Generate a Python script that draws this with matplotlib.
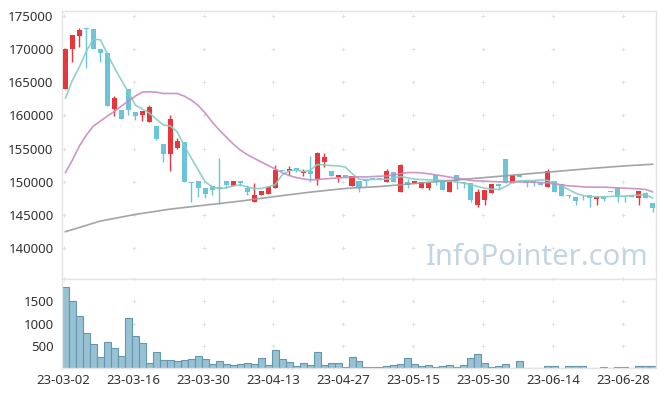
import numpy as np
import matplotlib
matplotlib.use("Agg")
import matplotlib.pyplot as plt

plt.rcParams['font.family'] = ['Noto Sans', 'DejaVu Sans']

# daily candles, 23-03-02 .. 23-07-04 (85 trading days)
opens = [164000, 170000, 171950, 173200, 173000, 170000, 169450, 160900, 160800, 163950,
         160450, 160050, 159050, 158400, 155700, 154150, 155150, 156050, 150000, 150100,
         149150, 149400, 149200, 150100, 149400, 150100, 149100, 147000, 148000, 148200,
         149100, 151800, 151600, 152050, 151400, 151600, 150400, 153050, 151600, 150700,
         151050, 149400, 150100, 150300, 150600, 150500, 150000, 151500, 148500, 150000,
         149800, 149150, 149150, 151050, 150000, 148500, 151050, 150000, 149800, 146500,
         147250, 148250, 149650, 153400, 149800, 151050, 150100, 150100, 149900, 149300,
         150150, 149650, 148000, 147650, 148000, 148000, 147450, 147650, 148600, 149000,
         147800, 147800, 147600, 148300, 146750]
highs = [170200, 172100, 173100, 173200, 173000, 170000, 169450, 162950, 160800, 163950,
         160450, 160650, 161550, 158400, 155700, 160050, 156600, 156050, 150000, 150100,
         149150, 149400, 153600, 150100, 150100, 150100, 149500, 149900, 148600, 149400,
         152550, 151800, 152400, 152050, 152000, 153900, 154550, 154300, 151600, 151050,
         151050, 150900, 150100, 150400, 150600, 150600, 152000, 151500, 152650, 150500,
         150100, 150050, 149900, 151050, 150000, 150000, 151050, 150000, 149800, 148900,
         148750, 149700, 149650, 153400, 151050, 151050, 150100, 150100, 149900, 152000,
         150150, 149650, 148000, 147650, 148000, 148000, 147750, 147650, 148600, 149000,
         147800, 147800, 148600, 148500, 146750]
lows = [164000, 168000, 170350, 167100, 169950, 168000, 161450, 159950, 159400, 160000,
        159300, 159100, 159050, 156300, 153050, 151700, 155000, 150000, 146900, 147700,
        147500, 148000, 146700, 149000, 149400, 149400, 148000, 147000, 148000, 148200,
        149100, 151700, 151000, 151500, 150900, 150000, 149500, 152300, 150900, 150000,
        150800, 149400, 148500, 149400, 150400, 150300, 150000, 150000, 148500, 149000,
        149800, 149000, 148800, 149500, 148750, 148500, 148900, 149000, 147000, 146200,
        146500, 148250, 148800, 149900, 149800, 150700, 149300, 149400, 149500, 149300,
        148500, 147900, 147500, 146500, 147200, 146250, 146500, 147100, 148500, 147000,
        147000, 147700, 146500, 147500, 145500]
closes = [170000, 172100, 172850, 172950, 169950, 169350, 161450, 162550, 159400, 160800,
          159950, 160650, 161300, 156450, 154150, 159450, 156150, 150000, 149850, 149100,
          148200, 148800, 148900, 149500, 150100, 149850, 148450, 148000, 148600, 149200,
          151800, 151700, 151900, 151800, 151650, 151150, 154400, 153800, 150900, 151050,
          150800, 150900, 149150, 150200, 150500, 150450, 151700, 150000, 152550, 149500,
          150100, 150050, 149900, 150100, 148750, 150000, 150100, 149900, 147250, 148500,
          148750, 149700, 149400, 149900, 151050, 150700, 149900, 149800, 149500, 151700,
          148500, 147900, 147900, 147150, 147950, 147600, 147750, 147350, 148500, 147750,
          147700, 147700, 148600, 147500, 146000]
volumes = [1820, 1500, 1160, 786, 538, 245, 583, 448, 275, 1124,
           718, 561, 110, 358, 185, 185, 162, 176, 200, 268,
           200, 88, 162, 88, 65, 88, 110, 88, 223, 65,
           403, 200, 133, 43, 110, 65, 358, 65, 110, 110,
           20, 245, 162, 20, 20, 20, 43, 65, 88, 223,
           88, 43, 65, 20, 43, 65, 20, 65, 223, 313,
           110, 20, 43, 88, 5, 155, 5, 5, 10, 43,
           43, 10, 43, 43, 43, 10, 5, 20, 5, 20,
           20, 5, 43, 43, 43]

# moving averages
ma5 = [162600, 165300, 167300, 169700, 171500, 171350, 169250, 167150, 165300, 163500,
       161550, 160950, 160350, 159450, 158550, 158400, 157500, 155400, 153600, 151800,
       150000, 149250, 148950, 149100, 149400, 149550, 149250, 149000, 149000, 149250,
       149550, 151050, 151650, 151800, 151550, 151700, 152600, 152550, 152450, 152400,
       152250, 151250, 150400, 150350, 150350, 150400, 150400, 150600, 150800, 150600,
       150400, 150350, 150300, 150300, 150200, 150150, 149950, 149800, 149600, 149300,
       149050, 148900, 148850, 149300, 149950, 150150, 150200, 150200, 150300, 150200,
       149800, 149400, 148850, 148300, 147950, 147800, 147750, 147750, 147800, 147850,
       147850, 147950, 148000, 148100, 147550]
ma20 = [151400, 153300, 155400, 157050, 158400, 159150, 159900, 160600, 161400, 162150,
        162900, 163500, 163550, 163500, 163300, 163300, 163300, 162900, 162300, 161500,
        160350, 159000, 157800, 156750, 155700, 154800, 154100, 153550, 153000, 152450,
        151950, 151400, 150950, 150650, 150450, 150300, 150350, 150450, 150500, 150600,
        150650, 150700, 150750, 150750, 150800, 150850, 150900, 151050, 151250, 151400,
        151400, 151350, 151200, 151050, 150900, 150700, 150550, 150400, 150200, 150150,
        150100, 150050, 150000, 150000, 150000, 150000, 149950, 149950, 149900, 149850,
        149700, 149550, 149400, 149350, 149250, 149200, 149200, 149200, 149150, 149100,
        149050, 149000, 148950, 148850, 148500]
ma120_idx = [0, 5, 10, 15, 20, 25, 30, 35, 40, 45, 50, 55, 60, 65, 70, 75, 80, 84]
ma120 = [142500, 144100, 145100, 145900, 146500, 147100, 147800, 148450, 149000,
         149300, 149750, 150200, 150650, 151100, 151550, 152000, 152400, 152650]

tick_pos = [0, 10, 20, 30, 40, 50, 60, 70, 80]
tick_labels = ['23-03-02', '23-03-16', '23-03-30', '23-04-13', '23-04-27',
               '23-05-15', '23-05-30', '23-06-14', '23-06-28']
price_ticks = [140000, 145000, 150000, 155000, 160000, 165000, 170000, 175000]
vol_ticks = [500, 1000, 1500]

UP = '#e8363c'
DOWN = '#6cc4da'
FRAME = '#e4e4e4'
TXT = '#333333'

fig = plt.figure(figsize=(6.65, 3.97), dpi=100)
ax = fig.add_axes([0.0932, 0.2972, 0.8933, 0.6751])
axv = fig.add_axes([0.0932, 0.0730, 0.8933, 0.2242], sharex=ax)

x = np.arange(len(opens))
o = np.array(opens); c = np.array(closes)
colors = [UP if cc > oo else DOWN for oo, cc in zip(o, c)]
bottoms = np.minimum(o, c)
heights = np.maximum(np.abs(c - o), 80)

ax.vlines(x, lows, highs, colors=colors, linewidth=1, zorder=2)
ax.bar(x, heights, bottom=bottoms, width=0.72, color=colors, linewidth=0, zorder=3)

ax.plot(x, ma5, color='#85cdc2', linewidth=1.2, alpha=0.9, zorder=4)
ax.plot(x, ma20, color='#c98bc2', linewidth=1.2, alpha=0.9, zorder=4)
ax.plot(ma120_idx, ma120, color='#9a9a9a', linewidth=1.2, alpha=0.9, zorder=4)

ax.set_xlim(-0.5, 84.5)
ax.set_ylim(135380, 175710)

axv.bar(x, volumes, width=1.0, color='#98c2d4', edgecolor='#6497ae', linewidth=0.8)
axv.set_ylim(0, 2000)

# "+" grid marks
tx = np.array(tick_pos) - 0.25
gx, gy = np.meshgrid(tx, price_ticks)
ax.scatter(gx.ravel(), gy.ravel(), marker='+', s=10, color='#e2e2e2', linewidth=0.7, zorder=1, clip_on=False)
gx, gy = np.meshgrid(tx, vol_ticks + [2000])
axv.scatter(gx.ravel(), gy.ravel(), marker='+', s=10, color='#e2e2e2', linewidth=0.7, zorder=0, clip_on=False)

for a in (ax, axv):
    for s in a.spines.values():
        s.set_color(FRAME)
        s.set_linewidth(1)
    a.tick_params(length=0, colors=TXT, labelsize=9.5)

ax.set_yticks(price_ticks)
ax.set_yticklabels([str(p) for p in price_ticks])
ax.tick_params(axis='x', labelbottom=False)
ax.tick_params(axis='y', pad=6)

axv.set_yticks(vol_ticks)
axv.set_yticklabels([str(v) for v in vol_ticks])
axv.set_xticks(tx)
axv.set_xticklabels(tick_labels)
axv.tick_params(axis='x', pad=4)
axv.tick_params(axis='y', pad=6)

ax.text(0.987, 0.08, 'InfoPointer.com', transform=ax.transAxes, ha='right', va='center',
        fontsize=21, color='#c3d4e2', zorder=5)

fig.savefig('out.png', dpi=100)
